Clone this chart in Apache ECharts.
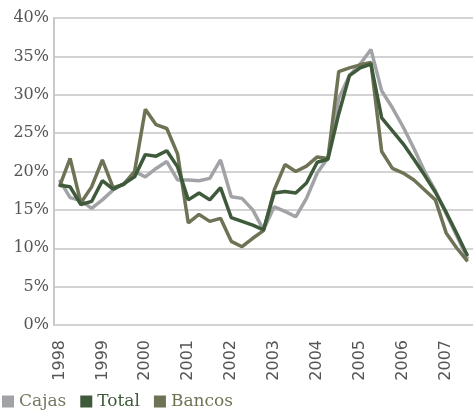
<!DOCTYPE html>
<html lang="es">
<head>
    <meta charset="UTF-8">
    <title>Cajas, Total, Bancos</title>
    <script src="https://cdn.jsdelivr.net/npm/echarts@6/dist/echarts.min.js"></script>
    <style>
        html, body { margin: 0; padding: 0; background: #fff; }
    </style>
</head>
<body>
    <div id="main" style="width:473px; height:413px;"></div>

    <script>
        // trimestral, 1998T1 .. 2007T3
        var years = ['1998', '1999', '2000', '2001', '2002', '2003', '2004', '2005', '2006', '2007'];

        var cajas = [18.9, 16.6, 16.2, 15.2, 16.3, 17.6, 18.4, 20.0,
                     19.3, 20.4, 21.3, 18.9, 18.9, 18.8, 19.1, 21.5,
                     16.7, 16.5, 15.0, 12.4, 15.4, 14.8, 14.1, 16.5,
                     19.8, 21.8, 29.5, 32.5, 34.0, 35.9, 30.5, 28.3,
                     25.8, 23.0, 20.0, 17.5, 14.5, 11.6, 8.6];

        var total = [18.2, 18.0, 15.7, 16.1, 18.8, 17.7, 18.4, 19.3,
                     22.2, 22.0, 22.7, 20.6, 16.3, 17.2, 16.3, 17.9,
                     14.0, 13.5, 13.0, 12.4, 17.2, 17.4, 17.2, 18.5,
                     21.2, 21.6, 27.5, 32.5, 33.5, 34.0, 27.0, 25.3,
                     23.6, 21.6, 19.5, 17.3, 14.7, 11.9, 9.0];

        var bancos = [18.0, 21.7, 15.9, 18.0, 21.5, 17.9, 18.3, 20.0,
                      28.1, 26.1, 25.6, 22.3, 13.3, 14.4, 13.5, 13.9,
                      10.9, 10.2, 11.3, 12.3, 17.6, 20.9, 20.0, 20.7,
                      21.9, 21.7, 33.0, 33.5, 33.9, 34.2, 22.6, 20.4,
                      19.8, 18.9, 17.6, 16.3, 12.0, 10.0, 8.3];

        // una categoria por trimestre; el primero de cada año es el año
        var quarters = cajas.map(function (v, i) {
            return i % 4 === 0 ? years[i / 4] : years[Math.floor(i / 4)] + 'T' + (i % 4 + 1);
        });

        var colors = { cajas: '#a2a3a6', total: '#3e5a3b', bancos: '#6d7354' };

        var chart = echarts.init(document.getElementById('main'));

        var option = {
            animation: false,
            grid: { left: 54, right: -4, top: 18, bottom: 88 },
            legend: {
                left: 2,
                top: 393,
                padding: 0,
                icon: 'rect',
                itemWidth: 12,
                itemHeight: 12,
                itemGap: 14,
                textStyle: { fontFamily: 'DejaVu Serif', fontSize: 17 },
                data: [
                    { name: 'Cajas', textStyle: { color: '#75785f' } },
                    { name: 'Total', textStyle: { color: '#3e5a3b' } },
                    { name: 'Bancos', textStyle: { color: '#6d7354' } }
                ]
            },
            xAxis: {
                type: 'category',
                data: quarters,
                boundaryGap: true,
                splitLine: { show: false },
                axisLine: { show: false },
                axisTick: { show: false },
                // los años se ponen abajo, girados, con graphic
                axisLabel: { show: false }
            },
            yAxis: {
                type: 'value',
                min: 0,
                max: 40,
                interval: 5,
                axisLine: { show: true, lineStyle: { color: '#c9c9c9', width: 2 } },
                axisTick: { show: false },
                splitLine: { lineStyle: { color: '#d3d3d3', width: 2 } },
                axisLabel: {
                    formatter: '{value}%',
                    margin: 5,
                    color: '#555',
                    fontFamily: 'DejaVu Serif',
                    fontSize: 16
                }
            },
            series: [
                {
                    name: 'Cajas', type: 'line', data: cajas,
                    showSymbol: false, color: colors.cajas,
                    lineStyle: { width: 3.5, color: colors.cajas }, z: 2
                },
                {
                    name: 'Total', type: 'line', data: total,
                    showSymbol: false, color: colors.total,
                    lineStyle: { width: 3.5, color: colors.total }, z: 4
                },
                {
                    name: 'Bancos', type: 'line', data: bancos,
                    showSymbol: false, color: colors.bancos,
                    lineStyle: { width: 3.5, color: colors.bancos }, z: 3
                }
            ]
        };

        chart.setOption(option);

        // etiquetas de los años, verticales, colocadas con las escalas del gráfico
        var y0 = chart.convertToPixel({ yAxisIndex: 0 }, 0);
        var yearLabels = years.map(function (y) {
            return {
                type: 'text',
                x: chart.convertToPixel({ xAxisIndex: 0 }, y),
                y: y0 + 15,
                rotation: Math.PI / 2,
                silent: true,
                style: {
                    text: y,
                    align: 'right',
                    verticalAlign: 'middle',
                    fill: '#555',
                    fontFamily: 'DejaVu Sans',
                    fontSize: 16
                }
            };
        });
        chart.setOption({ graphic: { elements: yearLabels } });
    </script>
</body>
</html>
